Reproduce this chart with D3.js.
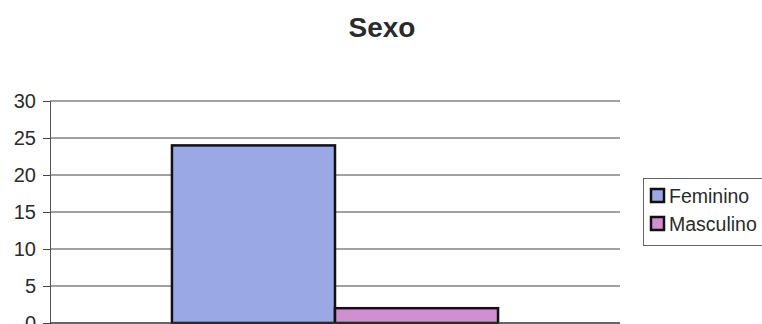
<!DOCTYPE html>
<html>
<head>
<meta charset="utf-8">
<script src="https://cdn.jsdelivr.net/npm/d3@7"></script>
<style>
  body { margin: 0; background: #fff; }
  text { font-family: "Liberation Sans", Arial, sans-serif; fill: #2b2b2b; }
</style>
</head>
<body>
<div id="chart"></div>
<script>
const categories = ["Sexo"];
const seriesNames = ["Feminino", "Masculino"];
const seriesValues = [24, 2];
const yTicks = [0, 5, 10, 15, 20, 25, 30];

const w = 762;
const h = 324;
const plotLeft = 50;
const plotRight = 620;
const plotTop = 101;
const plotBottom = 323;
const colors = ["#9aa8e6", "#cf8fd0"];

const svg = d3.select("#chart")
  .append("svg")
  .attr("width", w)
  .attr("height", h);

const yScale = d3.scaleLinear()
  .domain([0, 30])
  .range([plotBottom, plotTop]);

const xScale = d3.scaleBand()
  .domain(categories)
  .range([plotLeft, plotRight])
  .paddingInner(0)
  .paddingOuter(0.374);

const xSeries = d3.scaleBand()
  .domain(seriesNames)
  .range([0, xScale.bandwidth()]);

// gridlines
svg.selectAll("line.grid")
  .data(yTicks.filter(d => d > 0))
  .enter()
  .append("line")
  .attr("class", "grid")
  .attr("x1", plotLeft)
  .attr("x2", plotRight)
  .attr("y1", d => yScale(d))
  .attr("y2", d => yScale(d))
  .attr("stroke", "#444")
  .attr("stroke-width", 1.2);

const yAxis = d3.axisLeft(yScale)
  .tickValues(yTicks)
  .tickSize(7)
  .tickPadding(7);

const gy = svg.append("g")
  .attr("transform", "translate(" + plotLeft + ",0)")
  .call(yAxis);
gy.select(".domain").attr("stroke", "#555");
gy.selectAll(".tick line").attr("stroke", "#444");
gy.selectAll(".tick text")
  .style("font-size", "20px")
  .style("font-family", "\"Liberation Sans\", Arial, sans-serif")
  .attr("fill", "#2b2b2b");

// bars
svg.selectAll("rect.bar")
  .data(seriesValues)
  .enter()
  .append("rect")
  .attr("class", "bar")
  .attr("x", (d, i) => xScale(categories[0]) + xSeries(seriesNames[i]))
  .attr("y", d => yScale(d))
  .attr("width", xSeries.bandwidth())
  .attr("height", d => yScale(0) - yScale(d))
  .attr("fill", (d, i) => colors[i])
  .attr("stroke", "#111")
  .attr("stroke-width", 2.5);

// baseline
svg.append("line")
  .attr("x1", plotLeft)
  .attr("x2", plotRight)
  .attr("y1", yScale(0))
  .attr("y2", yScale(0))
  .attr("stroke", "#333")
  .attr("stroke-width", 1.5);

// title
svg.append("text")
  .attr("x", 382)
  .attr("y", 37)
  .attr("text-anchor", "middle")
  .style("font-size", "28px")
  .style("font-weight", "bold")
  .text(categories[0]);

// legend
const legend = svg.append("g");
legend.append("rect")
  .attr("x", 643.5)
  .attr("y", 178.5)
  .attr("width", 130)
  .attr("height", 67)
  .attr("fill", "#fff")
  .attr("stroke", "#666")
  .attr("stroke-width", 1);

const items = legend.selectAll("g.item")
  .data(seriesNames)
  .enter()
  .append("g")
  .attr("class", "item")
  .attr("transform", (d, i) => "translate(0," + (i * 28) + ")");

items.append("rect")
  .attr("x", 651)
  .attr("y", 189)
  .attr("width", 13)
  .attr("height", 13)
  .attr("fill", (d, i) => colors[i])
  .attr("stroke", "#111")
  .attr("stroke-width", 2.5);

items.append("text")
  .attr("x", 669)
  .attr("y", 203)
  .style("font-size", "19.5px")
  .text(d => d);
</script>
</body>
</html>
